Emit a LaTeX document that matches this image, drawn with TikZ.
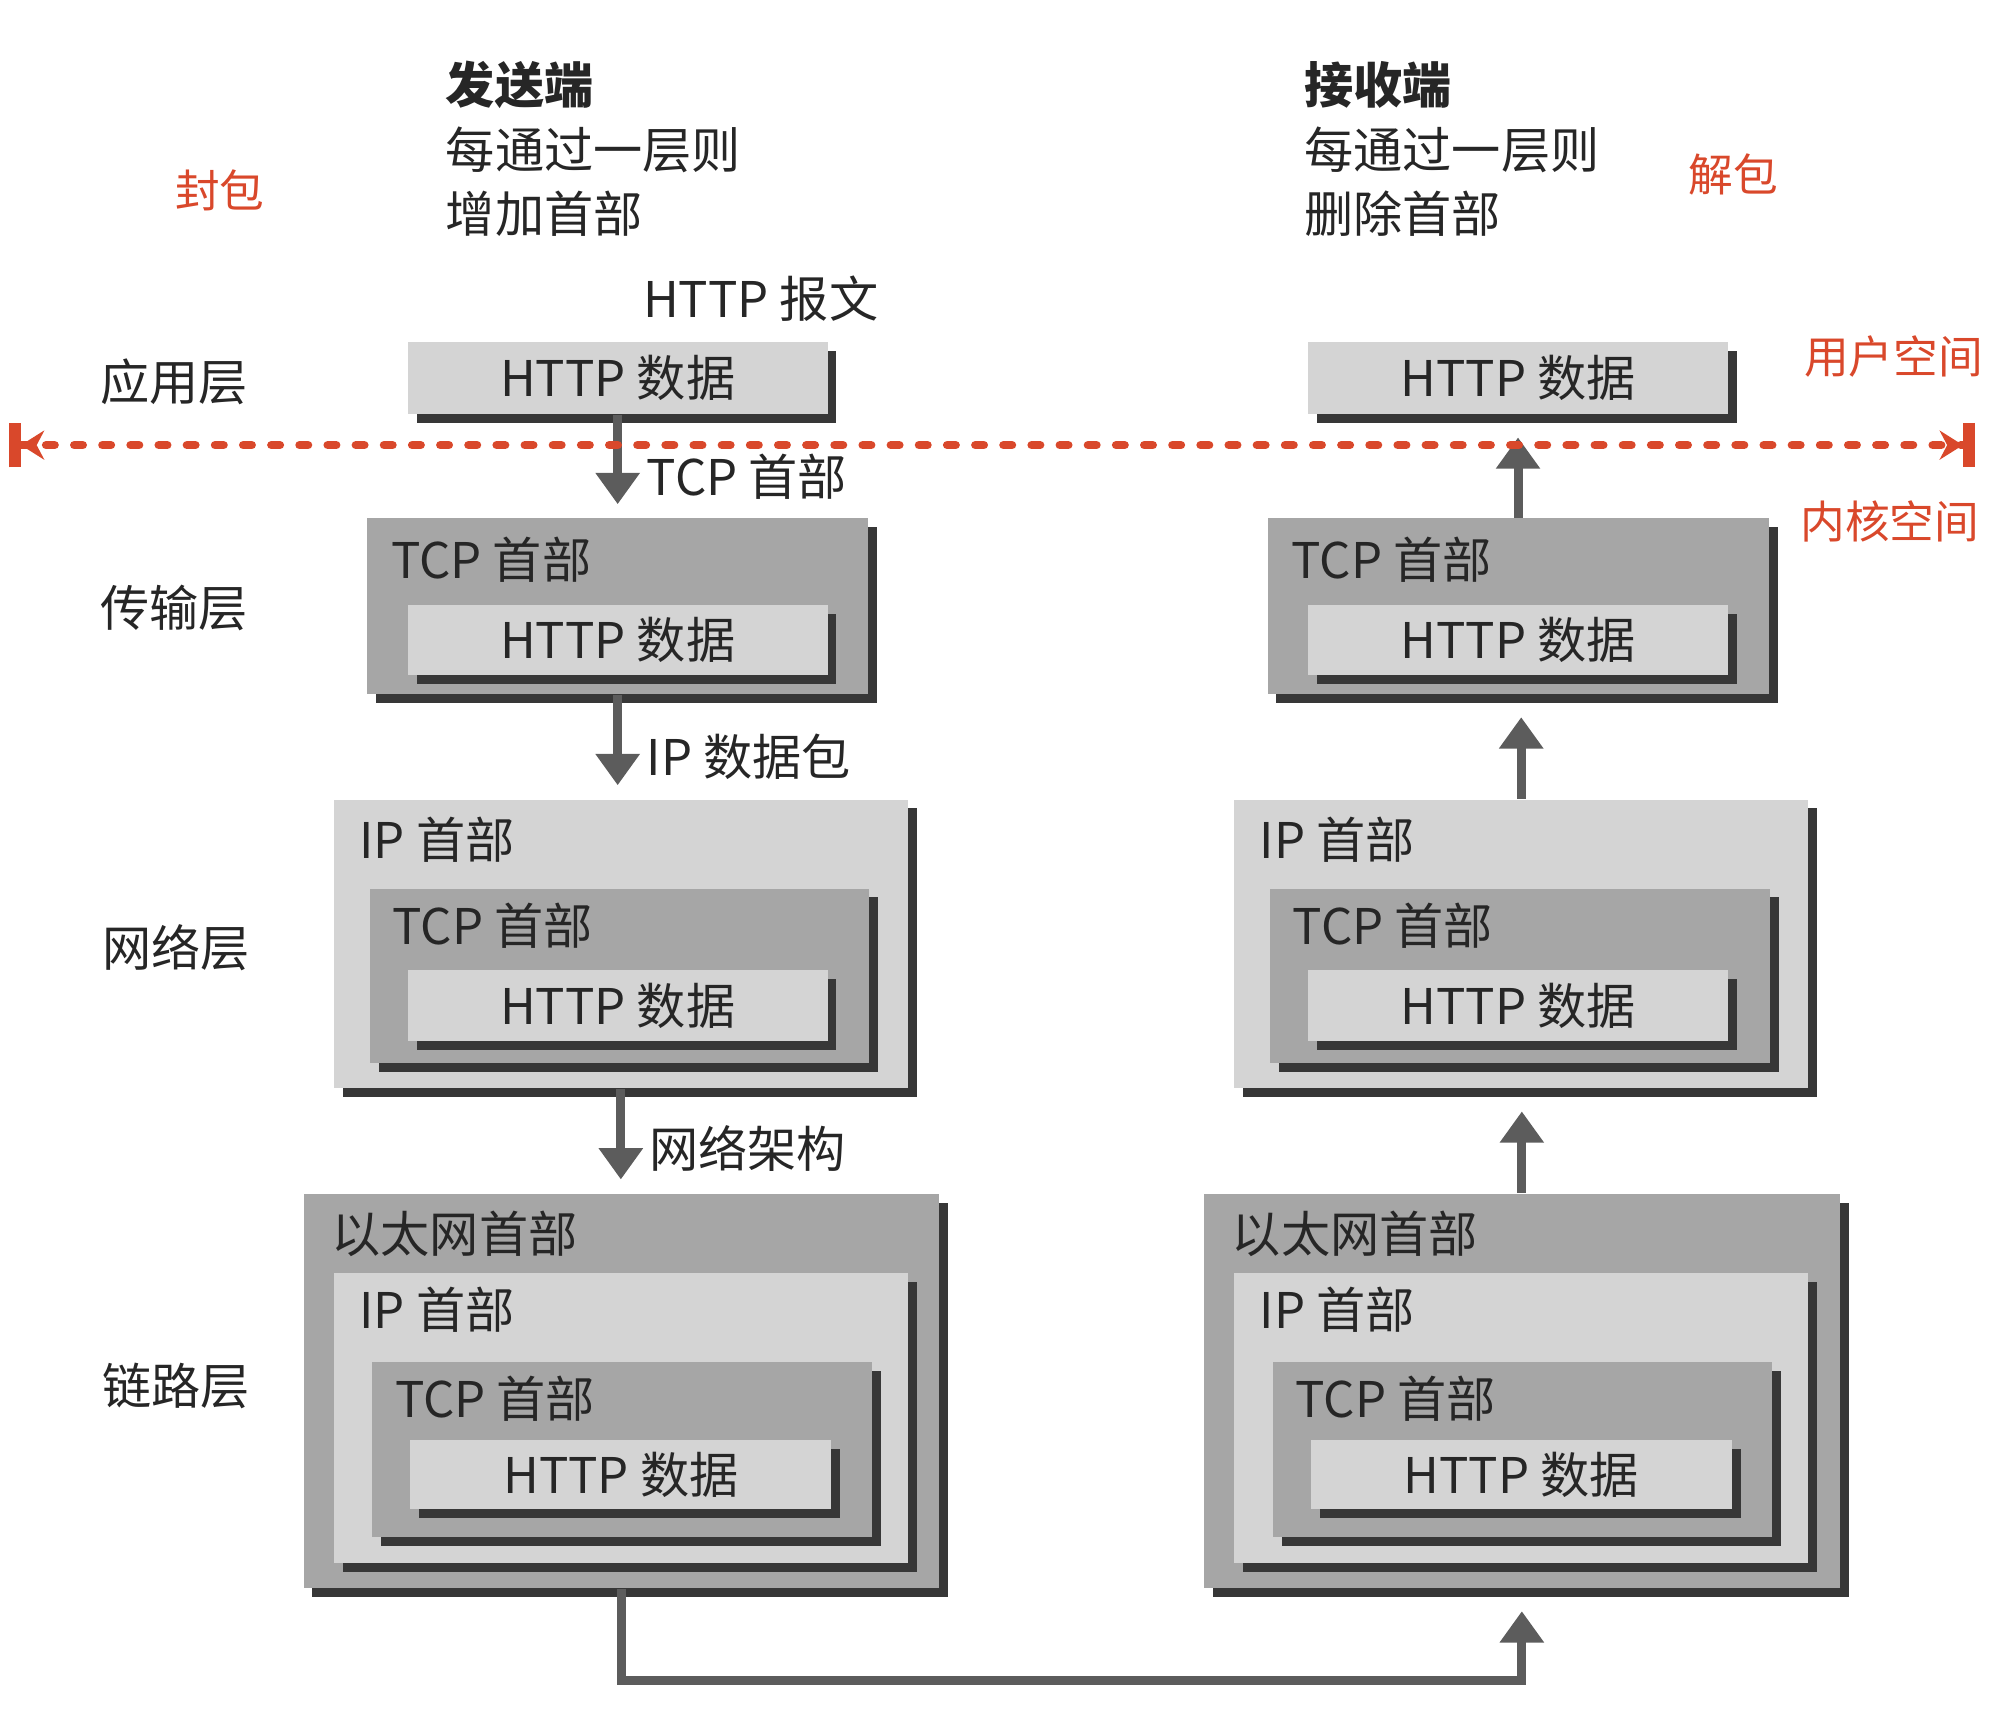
\documentclass[tikz,border=0pt]{standalone}
\usepackage{fontspec}
\setmainfont{Noto Sans CJK SC}
\usepackage{xcolor}
\usepackage{tikz}
\usetikzlibrary{arrows.meta, shadows}
\definecolor{nwlight}{RGB}{212, 212, 212}
\definecolor{nwdark}{RGB}{166, 166, 166}
\definecolor{nwshadow}{RGB}{55, 55, 55}
\definecolor{nwtext}{RGB}{38, 38, 38}
\definecolor{nwpipe}{RGB}{92, 92, 92}
\definecolor{nwred}{RGB}{217, 72, 43}

\tikzset{
  pkt/.style={rectangle, inner sep=0pt, anchor=north west, text=nwtext,
    font=\fontsize{11}{13}\selectfont,
    general shadow={fill=nwshadow, shadow xshift=2pt, shadow yshift=-2pt}},
  lightpkt/.style={pkt, fill=nwlight},
  darkpkt/.style={pkt, fill=nwdark},
  txt/.style={font=\fontsize{11}{13}\selectfont, text=nwtext, inner sep=0pt, anchor=west},
  redtxt/.style={font=\fontsize{10}{12}\selectfont, text=nwred, inner sep=0pt, anchor=west},
  pipe/.style={draw=nwpipe, line width=2pt, shorten >=3pt, -{Triangle[width=9.5pt, length=7pt]}},
  kline/.style={draw=nwred, line width=1.9pt, line cap=round, dash pattern=on 1.9pt off 4.4pt,
    {Bar[width=10pt, line width=2.7pt]Stealth[length=5.2pt, width=6.5pt]}-{Stealth[length=5.2pt, width=6.5pt]Bar[width=10pt, line width=2.7pt]}}
}

\begin{document}
\begin{tikzpicture}[y=-1cm]
\useasboundingbox (0,0) rectangle (15.68,13.53);

% Packet stacks, sender (L) and receiver (R)
\foreach \s/\dx in {L/0, R/7.08} {
  \begin{scope}[xshift=\dx cm]
  % application
  \node[lightpkt, minimum width=3.30cm, minimum height=0.57cm] (app\s) at (3.20,2.68) {HTTP 数据};
  % transport
  \node[darkpkt, minimum width=3.94cm, minimum height=1.38cm] (tra\s) at (2.88,4.07) {};
  \node[txt] (traH\s) at (3.07,4.40) {TCP 首部};
  \node[lightpkt, minimum width=3.30cm, minimum height=0.55cm] (traD\s) at (3.20,4.75) {HTTP 数据};
  % network
  \node[lightpkt, minimum width=4.51cm, minimum height=2.27cm] (net\s) at (2.62,6.28) {};
  \node[txt] (netH\s) at (2.82,6.60) {IP 首部};
  \node[darkpkt, minimum width=3.93cm, minimum height=1.37cm] (netT\s) at (2.90,6.98) {};
  \node[txt] (netTH\s) at (3.08,7.28) {TCP 首部};
  \node[lightpkt, minimum width=3.30cm, minimum height=0.56cm] (netD\s) at (3.20,7.62) {HTTP 数据};
  % link
  \node[darkpkt, minimum width=5.00cm, minimum height=3.10cm] (lnk\s) at (2.38,9.38) {};
  \node[txt] (lnkH\s) at (2.60,9.70) {以太网首部};
  \node[lightpkt, minimum width=4.51cm, minimum height=2.28cm] (lnkI\s) at (2.62,10.00) {};
  \node[txt] (lnkIH\s) at (2.82,10.30) {IP 首部};
  \node[darkpkt, minimum width=3.93cm, minimum height=1.38cm] (lnkT\s) at (2.92,10.70) {};
  \node[txt] (lnkTH\s) at (3.10,11.00) {TCP 首部};
  \node[lightpkt, minimum width=3.31cm, minimum height=0.54cm] (lnkD\s) at (3.22,11.32) {HTTP 数据};
  \end{scope}
}

% Layer names
\node[txt] (layA) at (0.78,3.00) {应用层};
\node[txt] (layB) at (0.78,4.78) {传输层};
\node[txt] (layC) at (0.80,7.45) {网络层};
\node[txt] (layD) at (0.80,10.90) {链路层};

% Headings
\node[txt, font=\fontsize{11}{13}\selectfont\bfseries] (sendA) at (3.50,0.67) {发送端};
\node[txt] (sendB) at (3.50,1.18) {每通过一层则};
\node[txt] (sendC) at (3.50,1.68) {增加首部};
\node[txt, font=\fontsize{11}{13}\selectfont\bfseries] (recvA) at (10.25,0.67) {接收端};
\node[txt] (recvB) at (10.25,1.18) {每通过一层则};
\node[txt] (recvC) at (10.25,1.68) {删除首部};
\node[txt] (msg) at (5.05,2.35) {HTTP 报文};

% Red notes
\node[redtxt] (wrap) at (1.37,1.50) {封包};
\node[redtxt] (unwrap) at (13.27,1.37) {解包};
\node[redtxt] (user) at (14.18,2.80) {用户空间};
\node[redtxt] (kern) at (14.15,4.10) {内核空间};

% Arrows
\draw[pipe] (appL.south) -- (appL.south |- traL.north);
\draw[pipe] (traL.south) -- (traL.south |- netL.north);
\draw[pipe] (netL.south) -- (netL.south |- lnkL.north);
\draw[pipe, shorten >=5pt] (traR.north) -- (traR.north |- appR.south);
\draw[pipe, shorten >=5pt] (netR.north) -- (netR.north |- traR.south);
\draw[pipe, shorten >=5pt] (lnkR.north) -- (lnkR.north |- netR.south);
\node[txt] (lbTcp) at (5.08,3.75) {TCP 首部};
\node[txt] (lbIp) at (5.08,5.95) {IP 数据包};
\node[txt] (lbEth) at (5.10,9.03) {网络架构};

% Wire to receiver
\path (lnkL.south) ++(0,0.72) coordinate (bus);
\draw[pipe, shorten >=5pt] (lnkL.south) -- (bus) -| (lnkR.south);

% User / kernel border
\coordinate (kl) at (0.07,3.50);
\coordinate (kr) at (15.53,3.50);
\draw[kline] (kl) -- (kr);
\end{tikzpicture}
\end{document}
